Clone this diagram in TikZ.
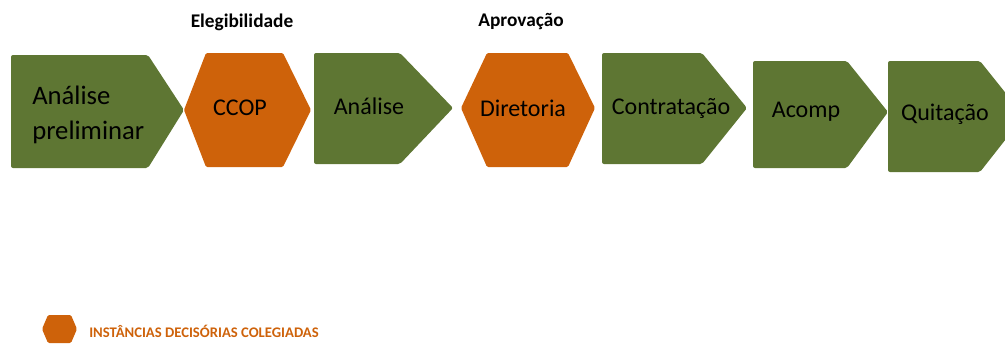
\documentclass[tikz,border=0pt]{standalone}
\usepackage{fontspec}
\setmainfont{Carlito}
\definecolor{pgreen}{RGB}{94,118,51}
\definecolor{porange}{RGB}{206,98,10}
\tikzset{
  stepshape/.style={fill=pgreen, rounded corners=1.5pt},
  hexshape/.style={fill=porange, rounded corners=1pt},
  steptext/.style={font=\fontsize{18}{20}\selectfont, text=black, inner sep=0pt},
  headtext/.style={font=\fontsize{14.5}{16}\selectfont\bfseries, text=black, inner sep=0pt},
}
\begin{document}
\begin{tikzpicture}[x=0.75pt,y=-0.75pt]
\useasboundingbox (0,0) rectangle (1005,344);
\begin{scope}
\clip (0,0) rectangle (1005,344);
% step 1
\path[stepshape] (11,55) -- (148,55) -- (184,110) -- (148,168) -- (11,168) -- cycle;
% hex CCOP
\path[hexshape] (184,110) -- (206,53) -- (283,53) -- (311,110) -- (283,167) -- (206,167) -- cycle;
% step Análise
\path[stepshape] (314,53) -- (400,53) -- (453,108) -- (400,164) -- (314,164) -- cycle;
% hex Diretoria
\path[hexshape] (461,108) -- (487,53) -- (568,53) -- (595,108) -- (568,167) -- (487,167) -- cycle;
% Contratação
\path[stepshape] (602,53) -- (702,53) -- (747,108) -- (702,164) -- (602,164) -- cycle;
% Acomp
\path[stepshape] (753,61) -- (847,61) -- (888,112) -- (847,168) -- (753,168) -- cycle;
% Quitação
\path[stepshape] (888,61) -- (980,61) -- (1024,116) -- (980,172) -- (888,172) -- cycle;
% legend hexagon
\path[hexshape] (42,329) -- (48,315) -- (71,315) -- (77,329) -- (71,343) -- (48,343) -- cycle;
\end{scope}
\node[steptext, font=\fontsize{20}{26}\selectfont, align=left, anchor=west] (t1) at (32,115) {Análise\\preliminar};
\node[steptext] (t2) at (240,108) {CCOP};
\node[steptext] (t3) at (369,106) {Análise};
\node[steptext] (t4) at (523,108) {Diretoria};
\node[steptext] (t5) at (671,108) {Contratação};
\node[steptext] (t6) at (806,112) {Acomp};
\node[steptext] (t7) at (945,114) {Quitação};
\node[headtext] (h1) at (242,22) {Elegibilidade};
\node[headtext] (h2) at (521,22) {Aprovação};
\node[inner sep=0pt, anchor=west, text=porange, font=\fontsize{11}{13}\selectfont\bfseries] (leg) at (89,331) {INSTÂNCIAS DECISÓRIAS COLEGIADAS};
\end{tikzpicture}
\end{document}
